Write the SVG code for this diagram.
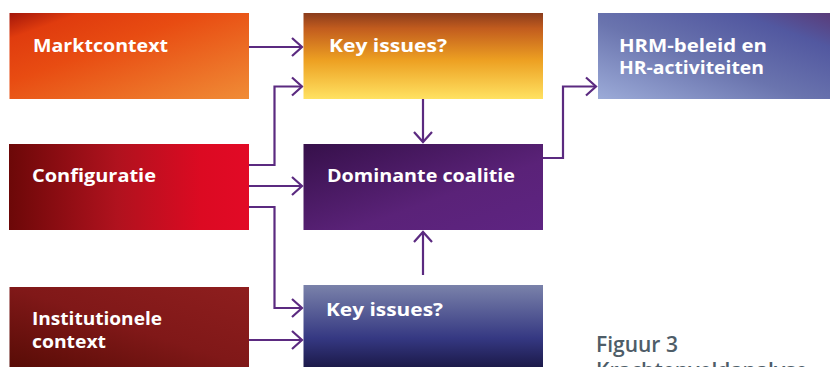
<svg xmlns="http://www.w3.org/2000/svg" width="830" height="367" viewBox="0 0 830 367">
<style>
.lbl{font-family:"Open Sans","DejaVu Sans",sans-serif;font-weight:700;font-size:18.5px;fill:#ffffff}
.cap{font-family:"Open Sans","DejaVu Sans",sans-serif;font-weight:600;font-size:21px;fill:#4e5d68}
.con{fill:none;stroke:#5b2a80;stroke-width:2.2}
</style>
<defs>
<marker id="arr" viewBox="0 0 14 22" markerWidth="14" markerHeight="22" refX="12" refY="11" orient="auto" markerUnits="userSpaceOnUse">
<path d="M2,2 L12,11 L2,20" fill="none" stroke="#5b2a80" stroke-width="2.2"/>
</marker>
<linearGradient id="gMarkt" x1="0" y1="0" x2="1" y2="1">
<stop offset="0" stop-color="#a3160a"/><stop offset="0.15" stop-color="#e03c0e"/><stop offset="0.4" stop-color="#e84c12"/><stop offset="1" stop-color="#f08c36"/>
</linearGradient>
<linearGradient id="gKeyTop" x1="0" y1="0" x2="0" y2="1">
<stop offset="0" stop-color="#8a3c1c"/><stop offset="0.18" stop-color="#c25c1e"/><stop offset="0.55" stop-color="#eda022"/><stop offset="1" stop-color="#ffe262"/>
</linearGradient>
<linearGradient id="gHrm" x1="0" y1="1" x2="1" y2="0">
<stop offset="0" stop-color="#9cabd8"/><stop offset="0.45" stop-color="#6a74ae"/><stop offset="0.8" stop-color="#5258a0"/><stop offset="1" stop-color="#5a3c7a"/>
</linearGradient>
<linearGradient id="gConf" x1="0" y1="0" x2="1" y2="0">
<stop offset="0" stop-color="#6c0808"/><stop offset="0.45" stop-color="#b0121e"/><stop offset="0.8" stop-color="#dc0a22"/><stop offset="1" stop-color="#e20a26"/>
</linearGradient>
<linearGradient id="gDom" x1="0" y1="0" x2="1" y2="1">
<stop offset="0" stop-color="#36104a"/><stop offset="0.6" stop-color="#5a2278"/><stop offset="1" stop-color="#5e2482"/>
</linearGradient>
<linearGradient id="gInst" x1="0" y1="1" x2="1" y2="0">
<stop offset="0" stop-color="#580c06"/><stop offset="0.5" stop-color="#801818"/><stop offset="1" stop-color="#8e1e1e"/>
</linearGradient>
<linearGradient id="gKeyBot" x1="0" y1="0" x2="0" y2="1">
<stop offset="0" stop-color="#7a82aa"/><stop offset="0.65" stop-color="#353882"/><stop offset="1" stop-color="#1c1a4a"/>
</linearGradient>
</defs>
<rect width="830" height="367" fill="#ffffff"/>

<g id="connectors">
<line class="con" x1="249" y1="47" x2="302" y2="47" marker-end="url(#arr)"/>
<polyline class="con" points="249,165 274.5,165 274.5,86.5 302,86.5" marker-end="url(#arr)"/>
<line class="con" x1="249" y1="186" x2="302" y2="186" marker-end="url(#arr)"/>
<polyline class="con" points="249,207 274.5,207 274.5,308 302,308" marker-end="url(#arr)"/>
<line class="con" x1="249" y1="340" x2="302" y2="340" marker-end="url(#arr)"/>
<line class="con" x1="423" y1="99" x2="423" y2="142" marker-end="url(#arr)"/>
<line class="con" x1="423" y1="275" x2="423" y2="232" marker-end="url(#arr)"/>
<polyline class="con" points="543,158 563,158 563,86.5 596,86.5" marker-end="url(#arr)"/>
</g>

<g id="marktcontext">
<rect x="9.5" y="13" width="239.5" height="86" fill="url(#gMarkt)"/>
<text class="lbl" x="33" y="52" textLength="135" lengthAdjust="spacingAndGlyphs">Marktcontext</text>
</g>

<g id="key-issues-top">
<rect x="303.5" y="13" width="239.5" height="86" fill="url(#gKeyTop)"/>
<text class="lbl" x="329" y="52" textLength="118" lengthAdjust="spacingAndGlyphs">Key issues?</text>
</g>

<g id="hrm">
<rect x="598" y="13" width="232" height="86" fill="url(#gHrm)"/>
<text class="lbl" x="619" y="52" textLength="148" lengthAdjust="spacingAndGlyphs">HRM-beleid en</text>
<text class="lbl" x="619" y="74" textLength="145" lengthAdjust="spacingAndGlyphs">HR-activiteiten</text>
</g>

<g id="configuratie">
<rect x="9" y="144" width="240" height="86" fill="url(#gConf)"/>
<text class="lbl" x="32" y="182" textLength="124" lengthAdjust="spacingAndGlyphs">Configuratie</text>
</g>

<g id="dominante-coalitie">
<rect x="303.5" y="144" width="239.5" height="86" fill="url(#gDom)"/>
<text class="lbl" x="327" y="182" textLength="188" lengthAdjust="spacingAndGlyphs">Dominante coalitie</text>
</g>

<g id="institutionele-context">
<rect x="9.5" y="287" width="239.5" height="80" fill="url(#gInst)"/>
<text class="lbl" x="32" y="325" textLength="130" lengthAdjust="spacingAndGlyphs">Institutionele</text>
<text class="lbl" x="32" y="348" textLength="74" lengthAdjust="spacingAndGlyphs">context</text>
</g>

<g id="key-issues-bottom">
<rect x="303.5" y="285" width="239.5" height="82" fill="url(#gKeyBot)"/>
<text class="lbl" x="326" y="316" textLength="117" lengthAdjust="spacingAndGlyphs">Key issues?</text>
</g>

<g id="caption">
<text class="cap" x="596" y="352">Figuur 3</text>
<text class="cap" x="596" y="378">Krachtenveldanalyse</text>
</g>
</svg>
